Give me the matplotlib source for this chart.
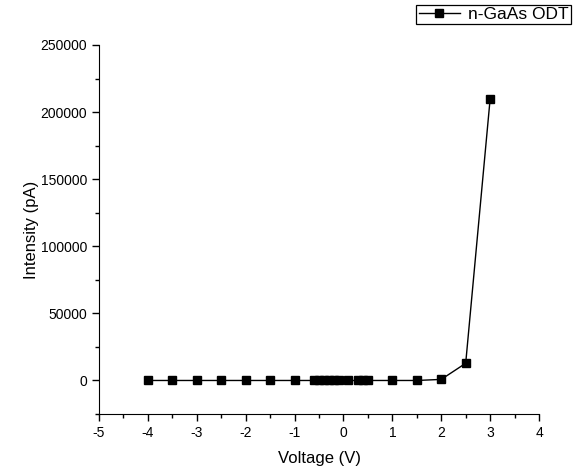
import matplotlib.pyplot as plt
from matplotlib.ticker import MultipleLocator

plt.rcParams['font.family'] = ['Liberation Sans', 'DejaVu Sans']
plt.rcParams['font.size'] = 10
plt.rcParams['axes.unicode_minus'] = False

voltage = [-4, -3.5, -3, -2.5, -2, -1.5, -1, -0.6, -0.5, -0.4, -0.3, -0.2, -0.1,
           0.1, 0.3, 0.4, 0.5, 1, 1.5, 2, 2.5, 3]
intensity = [0, 0, 0, 0, 0, 0, 0, 0, 0, 0, 0, 0, 0,
             0, 0, 0, 0, 0, 0, 800, 12800, 209800]

fig = plt.figure(figsize=(5.73, 4.70), dpi=100)
ax = fig.add_axes([0.1728, 0.1191, 0.7679, 0.7852])

ax.plot(voltage, intensity, color='black', linewidth=1, marker='s',
        markersize=5.5, label='n-GaAs ODT')

ax.set_xlim(-5, 4)
ax.set_ylim(-25000, 250000)
ax.set_xticks(range(-5, 5))
ax.set_yticks(range(0, 250001, 50000))
ax.xaxis.set_minor_locator(MultipleLocator(0.5))
ax.yaxis.set_minor_locator(MultipleLocator(25000))
ax.tick_params(which='major', direction='out', length=5, width=1)
ax.tick_params(which='minor', direction='out', length=3, width=1)

ax.spines['top'].set_visible(False)
ax.spines['right'].set_visible(False)

ax.set_xlabel('Voltage (V)', fontsize=12, labelpad=8)
ax.set_ylabel('Intensity (pA)', fontsize=12, labelpad=1)

leg = fig.legend(loc='upper right', bbox_to_anchor=(0.996, 0.99), fancybox=False,
                 edgecolor='black', framealpha=1, handlelength=2.4,
                 borderpad=0.12, borderaxespad=0, handletextpad=0.45, fontsize=12.5)
leg.get_frame().set_linewidth(0.9)

fig.savefig('out.png', dpi=100)
